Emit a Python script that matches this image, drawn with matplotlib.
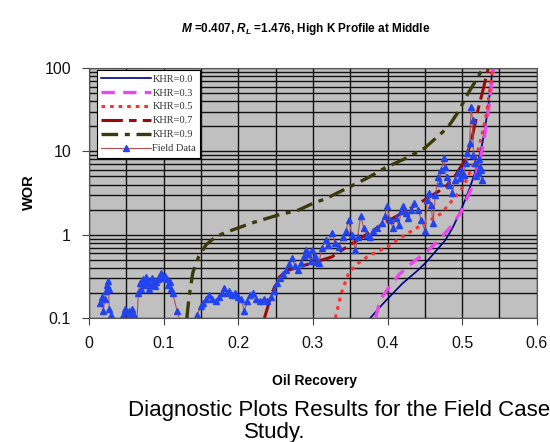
import numpy as np
import matplotlib.pyplot as plt
from matplotlib.ticker import LogLocator, MultipleLocator, FixedLocator, FixedFormatter, NullFormatter

plt.rcParams['font.family'] = ['Liberation Sans', 'DejaVu Sans']
plt.rcParams['mathtext.fontset'] = 'custom'
plt.rcParams['mathtext.it'] = 'Liberation Sans:bold:italic'
plt.rcParams['mathtext.rm'] = 'Liberation Sans:bold'

# simulated WOR curves for each KHR value
khr_labels = ['KHR=0.0', 'KHR=0.3', 'KHR=0.5', 'KHR=0.7', 'KHR=0.9']

rec_00 = [0.377, 0.388, 0.400, 0.420, 0.440, 0.451, 0.465, 0.477, 0.487, 0.495, 0.503,
          0.510, 0.516, 0.522, 0.527, 0.531, 0.535, 0.538, 0.541]
wor_00 = [0.10, 0.13, 0.17, 0.26, 0.37, 0.46, 0.64, 0.85, 1.2, 1.7, 2.5,
          3.6, 5.2, 8.0, 12.5, 20, 35, 60, 100]

rec_03 = [0.384, 0.390, 0.400, 0.415, 0.433, 0.450, 0.462, 0.472, 0.485, 0.499, 0.507,
          0.513, 0.519, 0.524, 0.528, 0.532, 0.536, 0.539, 0.542]
wor_03 = [0.10, 0.165, 0.22, 0.33, 0.46, 0.60, 0.75, 0.93, 1.25, 1.9, 2.8,
          3.7, 5.5, 8.0, 12, 20, 35, 60, 100]

rec_05 = [0.330, 0.338, 0.348, 0.360, 0.375, 0.399, 0.420, 0.450, 0.472, 0.487, 0.499,
          0.508, 0.516, 0.522, 0.528, 0.533, 0.537, 0.541]
wor_05 = [0.10, 0.20, 0.35, 0.45, 0.56, 0.71, 0.95, 1.38, 1.8, 2.6, 3.5,
          5.0, 7.5, 11, 18, 30, 55, 100]

rec_07 = [0.235, 0.245, 0.255, 0.265, 0.281, 0.300, 0.325, 0.350, 0.375, 0.400, 0.432,
          0.455, 0.477, 0.490, 0.504, 0.512, 0.521, 0.528, 0.535]
wor_07 = [0.10, 0.20, 0.31, 0.37, 0.41, 0.46, 0.54, 0.76, 1.05, 1.45, 2.1,
          2.8, 3.7, 5.0, 7.9, 13, 31, 55, 100]

rec_09 = [0.131, 0.134, 0.139, 0.147, 0.157, 0.170, 0.184, 0.199, 0.220, 0.255, 0.281,
          0.301, 0.317, 0.348, 0.375, 0.399, 0.425, 0.450, 0.465, 0.481, 0.495, 0.508,
          0.518, 0.528]
wor_09 = [0.10, 0.18, 0.35, 0.55, 0.76, 0.95, 1.07, 1.2, 1.4, 1.74, 1.98,
          2.4, 2.7, 3.7, 4.9, 6.5, 8.3, 11, 14.5, 19.5, 30, 50,
          70, 100]

# field history
field_rec = [0.015, 0.017, 0.019, 0.021, 0.023, 0.024, 0.025, 0.026, 0.027, 0.029, 0.031,
             0.040, 0.046, 0.048, 0.050, 0.052, 0.054, 0.056, 0.058, 0.060, 0.062, 0.064,
             0.066, 0.068, 0.070, 0.072, 0.074, 0.076, 0.078, 0.080, 0.082, 0.084, 0.086,
             0.088, 0.090, 0.092, 0.094, 0.096, 0.098, 0.100, 0.102, 0.104, 0.106, 0.108,
             0.110, 0.112, 0.118, 0.122, 0.142, 0.145, 0.150, 0.153, 0.157, 0.161, 0.165,
             0.170, 0.174, 0.178, 0.181, 0.185, 0.188, 0.192, 0.196, 0.200, 0.204, 0.208,
             0.212, 0.216, 0.219, 0.224, 0.229, 0.234, 0.239, 0.244, 0.248, 0.252, 0.256,
             0.260, 0.264, 0.268, 0.272, 0.276, 0.280, 0.284, 0.288, 0.291, 0.294, 0.297,
             0.299, 0.303, 0.306, 0.308, 0.312, 0.317, 0.320, 0.325, 0.330, 0.335, 0.340,
             0.344, 0.348, 0.352, 0.357, 0.360, 0.364, 0.368, 0.372, 0.376, 0.380, 0.386,
             0.392, 0.396, 0.399, 0.403, 0.407, 0.411, 0.415, 0.418, 0.421, 0.425, 0.428,
             0.432, 0.436, 0.441, 0.445, 0.450, 0.453, 0.455, 0.458, 0.461, 0.464, 0.468,
             0.470, 0.472, 0.475, 0.477, 0.479, 0.483, 0.487, 0.490, 0.494, 0.497, 0.499,
             0.502, 0.505, 0.507, 0.510, 0.512, 0.514, 0.515, 0.517, 0.519, 0.521, 0.523,
             0.524, 0.525, 0.526]
field_wor = [0.15, 0.18, 0.12, 0.17, 0.21, 0.25, 0.28, 0.22, 0.13, 0.11, 0.08,
             0.08, 0.11, 0.13, 0.12, 0.10, 0.12, 0.11, 0.13, 0.11, 0.10, 0.09,
             0.20, 0.26, 0.22, 0.29, 0.25, 0.31, 0.27, 0.22, 0.25, 0.30, 0.26,
             0.24, 0.27, 0.29, 0.31, 0.35, 0.33, 0.30, 0.32, 0.29, 0.25, 0.27,
             0.22, 0.20, 0.12, 0.09, 0.09, 0.11, 0.14, 0.15, 0.17, 0.19, 0.17,
             0.16, 0.18, 0.20, 0.23, 0.20, 0.21, 0.19, 0.20, 0.18, 0.17, 0.12,
             0.16, 0.19, 0.20, 0.17, 0.16, 0.17, 0.16, 0.18, 0.21, 0.26, 0.30,
             0.34, 0.38, 0.45, 0.52, 0.42, 0.38, 0.46, 0.55, 0.65, 0.58, 0.48,
             0.65, 0.55, 0.47, 0.46, 0.70, 0.86, 0.75, 1.05, 0.80, 0.71, 0.95,
             1.1, 1.5, 1.0, 0.65, 0.95, 1.7, 1.2, 1.0, 0.93, 1.1, 1.22,
             1.4, 1.7, 2.2, 1.5, 1.22, 1.6, 1.3, 1.9, 2.2, 1.8, 1.6,
             2.0, 2.4, 2.0, 1.5, 1.12, 2.6, 3.2, 2.3, 1.38, 3.0, 4.9,
             4.2, 6.0, 8.3, 6.5, 4.9, 4.0, 3.2, 4.5, 5.5, 4.8, 6.0,
             5.2, 7.2, 9.5, 12.6, 34, 24, 9.0, 7.2, 5.0, 5.5, 8.0,
             6.5, 6.0, 4.5]

fig = plt.figure(figsize=(5.5, 4.42), dpi=100)
ax = fig.add_axes([0.162, 0.2805, 0.814, 0.5655])
ax.set_facecolor('#c0c0c0')

ax.plot(rec_00, wor_00, color='#000080', lw=1.2, label=khr_labels[0])
ax.plot(rec_03, wor_03, color='#ee44ee', lw=2.4, ls=(0, (4, 2.5)), label=khr_labels[1])
ax.plot(rec_05, wor_05, color='#ff3030', lw=2.2, ls=(0, (1.2, 1.6)), label=khr_labels[2])
ax.plot(rec_07, wor_07, color='#9a0a0a', lw=2.2, ls=(0, (7, 2, 2.5, 2)), label=khr_labels[3])
ax.plot(rec_09, wor_09, color='#3a3a0a', lw=2.4, ls=(0, (5, 2, 1.5, 2)), label=khr_labels[4])
ax.plot(field_rec, field_wor, color='#b05050', lw=0.8, marker='^', ms=4,
        mfc='#2244ee', mec='#2244ee', label='Field Data')

ax.set_xlim(0, 0.6)
ax.set_yscale('log')
ax.set_ylim(0.1, 100)

ax.xaxis.set_major_locator(FixedLocator([0, 0.1, 0.2, 0.3, 0.4, 0.5, 0.6]))
ax.xaxis.set_major_formatter(FixedFormatter(['0', '0.1', '0.2', '0.3', '0.4', '0.5', '0.6']))
ax.xaxis.set_minor_locator(MultipleLocator(0.05))
ax.yaxis.set_major_locator(FixedLocator([0.1, 1, 10, 100]))
ax.yaxis.set_major_formatter(FixedFormatter(['0.1', '1', '10', '100']))
ax.yaxis.set_minor_locator(LogLocator(base=10, subs=np.arange(2, 10)))
ax.yaxis.set_minor_formatter(NullFormatter())

ax.grid(which='both', color='#111111', lw=1.0)
ax.set_axisbelow(True)
ax.tick_params(which='major', length=5, width=0.8, color='#444444', pad=8,
               labelsize=11.5, labelcolor='#111111')
ax.tick_params(which='minor', length=0)
for s in ax.spines.values():
    s.set_color('#555555')
    s.set_linewidth(0.8)

leg = ax.legend(loc='upper left', bbox_to_anchor=(0.018, 0.992), fancybox=False,
                framealpha=1, edgecolor='black', handlelength=4.8, handletextpad=0.1,
                labelspacing=0.45, borderpad=0.4, borderaxespad=0,
                prop={'family': 'Liberation Serif', 'size': 7.5})
leg.get_frame().set_linewidth(0.8)
for t in leg.get_texts():
    t.set_color('#333333')

fig.text(0.555, 0.935, r'$M$ =0.407, $R_L$ =1.476, High K Profile at Middle',
         ha='center', va='center', fontsize=8.5, fontweight='bold')
fig.text(0.052, 0.565, 'WOR', rotation=90, ha='center', va='center',
         fontsize=10.5, fontweight='bold')
fig.text(0.571, 0.138, 'Oil Recovery', ha='center', va='center',
         fontsize=10, fontweight='bold')
fig.text(0.233, 0.072, 'Diagnostic Plots Results for the Field Case', ha='left',
         va='center', fontsize=16)
fig.text(0.50, 0.022, 'Study.', ha='center', va='center', fontsize=16)

fig.savefig('out.png', dpi=100)
